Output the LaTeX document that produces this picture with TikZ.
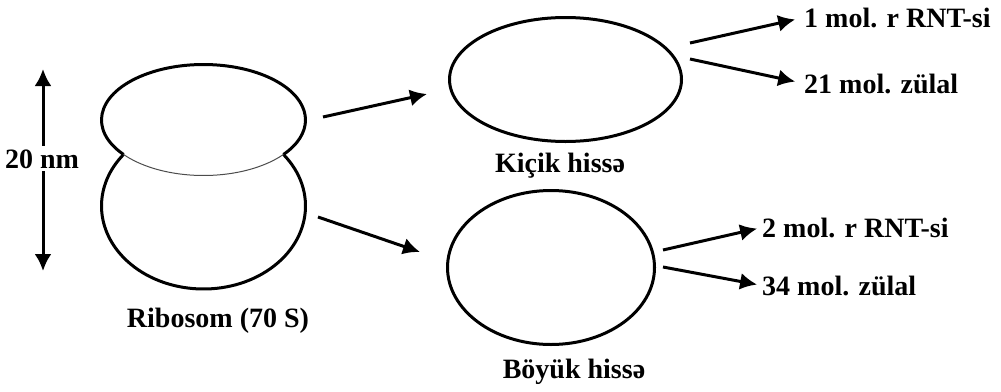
\documentclass[tikz,border=0pt]{standalone}
\usepackage{fontspec}
\setmainfont{Liberation Serif}
\usetikzlibrary{arrows.meta}
\usetikzlibrary{positioning}
\usetikzlibrary{shapes.geometric}
\tikzset{arr/.style = {line width=3pt, -{Latex[length=17pt,width=17pt]}}}
\tikzset{lbl/.style = {font=\fontsize{28}{32}\selectfont\bfseries, inner sep=0pt}}
\tikzset{part/.style = {draw, ellipse, line width=3pt, inner sep=0pt}}

\begin{document}
\begin{tikzpicture}[x=1pt, y=-1pt]
    \useasboundingbox (0,0) rectangle (1001,391);

    % ribosome: large part below, small part on top
    \draw [line width=3pt] ([shift={(-38.4:102 and 83)}]203.5,206) arc [start angle=-38.4, end angle=218.4, x radius=102, y radius=83];
    \draw [line width=3pt] ([shift={(141.6:102 and 55.5)}]203.5,120) arc [start angle=141.6, end angle=398.4, x radius=102, y radius=55.5];
    \draw [line width=1pt, black!70] ([shift={(38.4:102 and 55.5)}]203.5,120) arc [start angle=38.4, end angle=141.6, x radius=102, y radius=55.5];
    \node [lbl, anchor=base] (ribo) at (218,327) {Ribosom (70 S)};

    % size
    \coordinate (size top) at (43,69);
    \coordinate (size bot) at (43,271);
    \draw [arr, {Latex[length=17pt,width=17pt]}-{Latex[length=17pt,width=17pt]}] (size top) -- (size bot);
    \node [lbl, anchor=base, fill=white, inner xsep=1pt, inner ysep=3pt] (size) at (42,168) {20 nm};

    % subunits
    \node [part, minimum width=232pt, minimum height=124pt] (small) at (565.5,79.5) {};
    \node [part, minimum width=207pt, minimum height=154pt] (large) at (551,267.5) {};
    \node [lbl, anchor=base] (small name) at (560,172) {Kiçik hissə};
    \node [lbl, anchor=base] (large name) at (574,378) {Böyük hissə};

    \coordinate (ribo top) at (323,117);
    \coordinate (ribo bot) at (318,217);
    \coordinate (small in) at (427,94);
    \coordinate (large in) at (420,252);
    \draw [arr] (ribo top) -- (small in);
    \draw [arr] (ribo bot) -- (large in);

    % contents
    \node [lbl, anchor=base west] (rna1) at (804,27) {1 mol. r RNT-si};
    \node [lbl, anchor=base west] (prot1) at (804,93) {21 mol. zülal};
    \node [lbl, anchor=base west] (rna2) at (762,237) {2 mol. r RNT-si};
    \node [lbl, anchor=base west] (prot2) at (762,295) {34 mol. zülal};

    \coordinate (small out1) at (690,43);
    \coordinate (small out2) at (690,59);
    \coordinate (large out1) at (663,250);
    \coordinate (large out2) at (663,267);
    \draw [arr, shorten >=9pt] (small out1) -- (rna1.west);
    \draw [arr, shorten >=9pt] (small out2) -- (prot1.west);
    \draw [arr, shorten >=5pt] (large out1) -- (rna2.west);
    \draw [arr, shorten >=5pt] (large out2) -- (prot2.west);
\end{tikzpicture}
\end{document}
